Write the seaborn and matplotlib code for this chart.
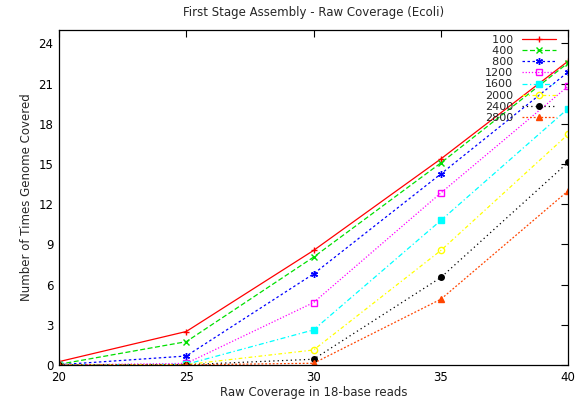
import matplotlib
matplotlib.use("Agg")
import matplotlib.pyplot as plt
import seaborn as sns
import pandas as pd

# Raw coverage (x) and times the genome is covered, one list per read count
coverage = [20, 25, 30, 35, 40]
reads = ["100", "400", "800", "1200", "1600", "2000", "2400", "2800"]
cov_100 = [0.25, 2.5, 8.55, 15.38, 22.68]
cov_400 = [0.05, 1.74, 8.05, 15.08, 22.55]
cov_800 = [0.02, 0.67, 6.8, 14.26, 21.87]
cov_1200 = [0.0, 0.12, 4.66, 12.84, 20.81]
cov_1600 = [0.0, 0.05, 2.62, 10.79, 19.14]
cov_2000 = [0.0, 0.03, 1.12, 8.55, 17.22]
cov_2400 = [0.0, 0.02, 0.43, 6.53, 15.13]
cov_2800 = [0.0, 0.01, 0.13, 4.91, 13.0]
series = [cov_100, cov_400, cov_800, cov_1200, cov_1600, cov_2000, cov_2400, cov_2800]

colors = ["#ff0000", "#00e000", "#0000ff", "#ff00ff", "#00ffff", "#ffff00", "#000000", "#ff4500"]
markers = ["+", "x", (6, 2, 0), "s", "s", "o", "o", "^"]
msizes = [5, 4.5, 5, 4.5, 4.5, 4.5, 4, 4.5]
filled = [True, True, True, False, True, False, True, True]
dashes = ["-", (0, (4, 2)), (0, (2, 2)), (0, (1, 1.5)), (0, (4, 2, 1, 2)), (0, (3, 2, 1, 2)), (0, (1, 2.5)), (0, (1.5, 1.5))]

rows = []
for name, vals in zip(reads, series):
    for x, y in zip(coverage, vals):
        rows.append({"coverage": x, "times": y, "reads": name})
df = pd.DataFrame(rows)

sns.set_style("white")
plt.rcParams["font.family"] = ["DejaVu Sans"]

fig = plt.figure(figsize=(5.78, 4.0), dpi=100)
ax = fig.add_axes([0.102, 0.0875, 0.881, 0.8375])

width = max(len(r) for r in reads)
for i, name in enumerate(reads):
    sub = df[df["reads"] == name]
    label = "\u2007" * (width - len(name)) + name
    mfc = colors[i] if filled[i] else "none"
    sns.lineplot(data=sub, x="coverage", y="times", ax=ax, color=colors[i],
                 linewidth=0.9, linestyle=dashes[i], marker=markers[i],
                 markersize=msizes[i], markerfacecolor=mfc, markeredgecolor=colors[i],
                 markeredgewidth=1.0, label=label)

ax.set_xlim(20, 40)
ax.set_ylim(0, 25)
ax.set_xticks(coverage)
ax.set_yticks(range(0, 25, 3))
ax.tick_params(direction="in", length=5, width=0.8, labelsize=8.5, top=True, right=True,
               colors="black", pad=4)
for s in ax.spines.values():
    s.set_color("black")
    s.set_linewidth(0.9)

ax.set_xlabel("Raw Coverage in 18-base reads", fontsize=8.5, labelpad=2)
ax.set_ylabel("Number of Times Genome Covered", fontsize=8.5, labelpad=4)
ax.set_title("First Stage Assembly - Raw Coverage (Ecoli)", fontsize=8.5, pad=10)

leg = ax.legend(loc="upper right", bbox_to_anchor=(0.985, 1.0), frameon=False,
                markerfirst=False, fontsize=8, handlelength=3.0, handletextpad=0.8,
                labelspacing=0.1, borderaxespad=0.1, borderpad=0.35)

fig.savefig("out.png", dpi=100)
